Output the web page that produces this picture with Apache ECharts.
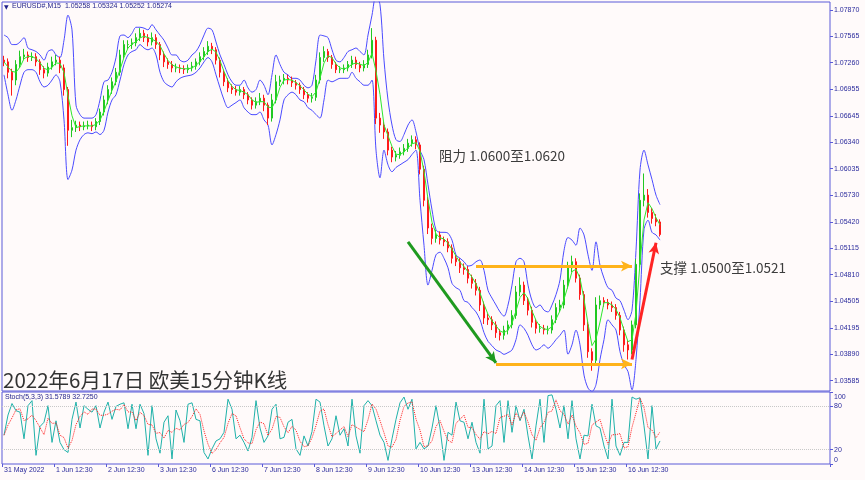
<!DOCTYPE html>
<html><head><meta charset="utf-8">
<script src="https://cdn.jsdelivr.net/npm/echarts@6/dist/echarts.min.js"></script>
<style>html,body{margin:0;padding:0;background:#fffafa;}#c{width:865px;height:480px;}</style>
</head><body><div id="c"></div>
<script>
// ---- data (aggregated bars) ----
const opens = [
1.0729,1.0727,1.0715,1.0706,1.0724,1.0733,1.0735,1.0732,1.0733,1.0727,
1.0718,1.0714,1.0721,1.0727,1.0729,1.0720,1.0695,1.0648,1.0651,1.0654,
1.0652,1.0653,1.0654,1.0652,1.0658,1.0669,1.0683,1.0695,1.0704,1.0715,
1.0735,1.0747,1.0747,1.0749,1.0755,1.0760,1.0755,1.0750,1.0755,1.0747,
1.0735,1.0727,1.0724,1.0720,1.0720,1.0719,1.0718,1.0720,1.0722,1.0727,
1.0733,1.0739,1.0745,1.0741,1.0729,1.0715,1.0704,1.0697,1.0695,1.0692,
1.0695,1.0689,1.0683,1.0677,1.0681,1.0685,1.0677,1.0662,1.0683,1.0704,
1.0706,1.0708,1.0706,1.0703,1.0700,1.0695,1.0689,1.0685,1.0686,1.0706,
1.0732,1.0739,1.0732,1.0724,1.0718,1.0718,1.0720,1.0724,1.0729,1.0724,
1.0720,1.0724,1.0735,1.0752,1.0662,1.0654,1.0646,1.0625,1.0617,1.0619,
1.0623,1.0627,1.0633,1.0637,1.0631,1.0603,1.0567,1.0535,1.0523,1.0527,
1.0521,1.0519,1.0512,1.0500,1.0496,1.0489,1.0487,1.0477,1.0471,1.0463,
1.0446,1.0431,1.0429,1.0423,1.0414,1.0411,1.0417,1.0423,1.0434,1.0461,
1.0469,1.0451,1.0440,1.0426,1.0419,1.0419,1.0417,1.0417,1.0429,1.0443,
1.0446,1.0469,1.0489,1.0496,1.0477,1.0458,1.0423,1.0392,1.0382,1.0446,
1.0451,1.0449,1.0446,1.0443,1.0434,1.0417,1.0400,1.0394,1.0423,1.0493,
1.0567,1.0573,1.0553,1.0546,1.0542];
const closes = [
1.0727,1.0715,1.0706,1.0724,1.0733,1.0735,1.0732,1.0733,1.0727,1.0718,
1.0714,1.0721,1.0727,1.0729,1.0720,1.0695,1.0648,1.0651,1.0654,1.0652,
1.0653,1.0654,1.0652,1.0658,1.0669,1.0683,1.0695,1.0704,1.0715,1.0735,
1.0747,1.0747,1.0749,1.0755,1.0760,1.0755,1.0750,1.0755,1.0747,1.0735,
1.0727,1.0724,1.0720,1.0720,1.0719,1.0718,1.0720,1.0722,1.0727,1.0733,
1.0739,1.0745,1.0741,1.0729,1.0715,1.0704,1.0697,1.0695,1.0692,1.0695,
1.0689,1.0683,1.0677,1.0681,1.0685,1.0677,1.0662,1.0683,1.0704,1.0706,
1.0708,1.0706,1.0703,1.0700,1.0695,1.0689,1.0685,1.0686,1.0706,1.0732,
1.0739,1.0732,1.0724,1.0718,1.0718,1.0720,1.0724,1.0729,1.0724,1.0720,
1.0724,1.0735,1.0752,1.0662,1.0654,1.0646,1.0625,1.0617,1.0619,1.0623,
1.0627,1.0633,1.0637,1.0631,1.0603,1.0567,1.0535,1.0523,1.0527,1.0521,
1.0519,1.0512,1.0500,1.0496,1.0489,1.0487,1.0477,1.0471,1.0463,1.0446,
1.0431,1.0429,1.0423,1.0414,1.0411,1.0417,1.0423,1.0434,1.0461,1.0469,
1.0451,1.0440,1.0426,1.0419,1.0419,1.0417,1.0417,1.0429,1.0443,1.0446,
1.0469,1.0489,1.0496,1.0477,1.0458,1.0423,1.0392,1.0382,1.0446,1.0451,
1.0449,1.0446,1.0443,1.0434,1.0417,1.0400,1.0394,1.0423,1.0493,1.0567,
1.0573,1.0553,1.0546,1.0542,1.05274];
const highs = [
1.0734,1.0731,1.0719,1.0729,1.0740,1.0742,1.0739,1.0738,1.0737,1.0730,
1.0722,1.0726,1.0733,1.0735,1.0733,1.0724,1.0698,1.0660,1.0659,1.0658,
1.0658,1.0659,1.0658,1.0662,1.0673,1.0688,1.0700,1.0709,1.0720,1.0741,
1.0752,1.0752,1.0754,1.0760,1.0766,1.0764,1.0759,1.0761,1.0759,1.0750,
1.0739,1.0731,1.0728,1.0725,1.0724,1.0723,1.0724,1.0727,1.0731,1.0738,
1.0744,1.0751,1.0749,1.0744,1.0732,1.0718,1.0708,1.0701,1.0699,1.0699,
1.0698,1.0692,1.0686,1.0686,1.0691,1.0689,1.0680,1.0690,1.0712,1.0711,
1.0713,1.0712,1.0710,1.0706,1.0703,1.0698,1.0692,1.0691,1.0712,1.0738,
1.0745,1.0742,1.0735,1.0727,1.0722,1.0724,1.0728,1.0734,1.0733,1.0727,
1.0729,1.0741,1.0766,1.0756,1.0668,1.0658,1.0650,1.0629,1.0624,1.0628,
1.0632,1.0638,1.0642,1.0641,1.0634,1.0607,1.0571,1.0540,1.0533,1.0531,
1.0525,1.0523,1.0516,1.0504,1.0500,1.0494,1.0491,1.0481,1.0476,1.0467,
1.0450,1.0436,1.0433,1.0427,1.0418,1.0422,1.0428,1.0440,1.0468,1.0478,
1.0473,1.0455,1.0444,1.0430,1.0424,1.0423,1.0422,1.0434,1.0448,1.0452,
1.0475,1.0496,1.0503,1.0500,1.0481,1.0462,1.0427,1.0396,1.0455,1.0457,
1.0455,1.0453,1.0450,1.0447,1.0438,1.0421,1.0405,1.0428,1.0499,1.0575,
1.0598,1.0580,1.0558,1.0551,1.0545];
const lows = [
1.0722,1.0708,1.0688,1.0700,1.0720,1.0729,1.0727,1.0728,1.0722,1.0712,
1.0708,1.0710,1.0718,1.0723,1.0714,1.0688,1.0630,1.0640,1.0646,1.0647,
1.0648,1.0649,1.0647,1.0648,1.0654,1.0665,1.0678,1.0690,1.0700,1.0711,
1.0731,1.0742,1.0742,1.0745,1.0751,1.0750,1.0745,1.0746,1.0742,1.0729,
1.0721,1.0719,1.0715,1.0715,1.0714,1.0713,1.0714,1.0716,1.0718,1.0723,
1.0729,1.0735,1.0736,1.0724,1.0709,1.0699,1.0692,1.0690,1.0688,1.0688,
1.0684,1.0678,1.0672,1.0673,1.0677,1.0670,1.0654,1.0658,1.0679,1.0699,
1.0701,1.0701,1.0698,1.0695,1.0690,1.0684,1.0680,1.0680,1.0682,1.0702,
1.0727,1.0727,1.0719,1.0714,1.0714,1.0714,1.0716,1.0720,1.0719,1.0715,
1.0716,1.0720,1.0731,1.0655,1.0645,1.0638,1.0619,1.0611,1.0612,1.0615,
1.0619,1.0623,1.0629,1.0626,1.0597,1.0560,1.0528,1.0516,1.0518,1.0516,
1.0514,1.0507,1.0494,1.0491,1.0483,1.0481,1.0471,1.0465,1.0457,1.0439,
1.0424,1.0423,1.0417,1.0408,1.0405,1.0406,1.0412,1.0419,1.0430,1.0456,
1.0446,1.0434,1.0420,1.0413,1.0414,1.0412,1.0412,1.0413,1.0425,1.0438,
1.0442,1.0465,1.0484,1.0472,1.0452,1.0416,1.0385,1.0370,1.0378,1.0441,
1.0444,1.0441,1.0438,1.0429,1.0411,1.0392,1.0383,1.0389,1.0419,1.0489,
1.0560,1.0547,1.0540,1.0537,1.05252];
const upperBand = [
1.0758,1.0755,1.0747,1.0747,1.0750,1.0755,1.0743,1.0741,1.0739,1.0735,
1.0729,1.0739,1.0741,1.0735,1.0732,1.0752,1.0781,1.0764,1.0677,1.0666,
1.0662,1.0662,1.0662,1.0666,1.0683,1.0704,1.0706,1.0715,1.0732,1.0757,
1.0758,1.0755,1.0760,1.0767,1.0767,1.0766,1.0764,1.0770,1.0764,1.0758,
1.0752,1.0743,1.0735,1.0735,1.0729,1.0727,1.0729,1.0735,1.0739,1.0747,
1.0758,1.0766,1.0764,1.0750,1.0735,1.0724,1.0712,1.0704,1.0700,1.0700,
1.0706,1.0697,1.0692,1.0695,1.0706,1.0700,1.0689,1.0712,1.0735,1.0724,
1.0715,1.0712,1.0708,1.0708,1.0706,1.0700,1.0697,1.0700,1.0729,1.0758,
1.0757,1.0755,1.0741,1.0729,1.0727,1.0732,1.0739,1.0741,1.0743,1.0739,
1.0735,1.0758,1.0781,1.0804,1.0793,1.0729,1.0683,1.0654,1.0637,1.0635,
1.0643,1.0654,1.0660,1.0646,1.0625,1.0614,1.0585,1.0556,1.0533,1.0530,
1.0530,1.0529,1.0521,1.0504,1.0500,1.0496,1.0491,1.0492,1.0496,1.0498,
1.0486,1.0463,1.0454,1.0446,1.0438,1.0433,1.0446,1.0469,1.0496,1.0500,
1.0496,1.0469,1.0451,1.0443,1.0446,1.0440,1.0438,1.0446,1.0458,1.0475,
1.0509,1.0524,1.0521,1.0515,1.0535,1.0527,1.0504,1.0486,1.0519,1.0492,
1.0477,1.0466,1.0463,1.0454,1.0451,1.0440,1.0429,1.0440,1.0509,1.0602,
1.0625,1.0608,1.0591,1.0573,1.0562];
const lowerBand = [
1.0712,1.0689,1.0671,1.0683,1.0700,1.0715,1.0718,1.0718,1.0715,1.0704,
1.0698,1.0700,1.0706,1.0712,1.0704,1.0660,1.0591,1.0602,1.0625,1.0637,
1.0643,1.0645,1.0644,1.0646,1.0643,1.0648,1.0669,1.0683,1.0689,1.0706,
1.0724,1.0735,1.0739,1.0741,1.0747,1.0743,1.0741,1.0743,1.0735,1.0715,
1.0704,1.0700,1.0698,1.0704,1.0708,1.0710,1.0711,1.0712,1.0715,1.0720,
1.0727,1.0732,1.0727,1.0712,1.0697,1.0683,1.0674,1.0677,1.0680,1.0683,
1.0674,1.0669,1.0666,1.0666,1.0669,1.0660,1.0654,1.0631,1.0643,1.0660,
1.0683,1.0689,1.0692,1.0689,1.0683,1.0681,1.0674,1.0671,1.0666,1.0662,
1.0683,1.0706,1.0704,1.0706,1.0708,1.0708,1.0708,1.0715,1.0708,1.0704,
1.0700,1.0700,1.0706,1.0625,1.0593,1.0625,1.0608,1.0600,1.0605,1.0608,
1.0611,1.0614,1.0620,1.0625,1.0567,1.0515,1.0469,1.0486,1.0504,1.0507,
1.0500,1.0489,1.0471,1.0466,1.0463,1.0451,1.0449,1.0443,1.0438,1.0429,
1.0414,1.0404,1.0399,1.0394,1.0392,1.0389,1.0391,1.0394,1.0406,1.0423,
1.0419,1.0411,1.0400,1.0394,1.0396,1.0400,1.0396,1.0400,1.0406,1.0411,
1.0417,1.0389,1.0400,1.0417,1.0400,1.0365,1.0350,1.0346,1.0354,1.0383,
1.0406,1.0429,1.0423,1.0417,1.0392,1.0377,1.0369,1.0348,1.0383,1.0451,
1.0533,1.0544,1.0530,1.0527,1.0521];
const stochK = [
40,68,84,74,72,35,81,88,12,52, 58,81,30,60,30,20,16,62,86,50,
81,76,72,81,50,72,86,62,80,83, 85,49,83,49,83,70,12,81,35,15,
58,67,7,75,60,30,83,85,62,60, 16,7,21,32,35,44,90,76,35,40,
30,18,37,88,50,30,39,76,83,35, 37,58,62,21,12,39,25,45,90,86,
53,25,35,67,40,49,25,90,39,15, 81,88,81,60,40,30,5,35,62,85,
93,76,90,21,30,21,25,50,81,50, 5,44,40,86,60,58,35,58,30,15,
90,21,25,81,88,30,88,44,81,60, 76,39,7,53,90,30,95,96,76,50,
81,35,88,35,7,40,39,83,53,50, 25,7,90,25,12,30,30,93,90,92,
53,7,81,21,32];
const totalSlots = 207;                 // chart keeps empty space to the right
const dayTickIndex = [0,13,26,39,52,65,78,91,104,117,130,143,156];
const dayTickLabels = ['31 May 2022','1 Jun 12:30','2 Jun 12:30','3 Jun 12:30','6 Jun 12:30','7 Jun 12:30','8 Jun 12:30','9 Jun 12:30','10 Jun 12:30','13 Jun 12:30','14 Jun 12:30','15 Jun 12:30','16 Jun 12:30'];
const priceTicks = [1.07870,1.07565,1.07260,1.06955,1.06645,1.06340,1.06035,1.05730,1.05420,1.05115,1.04810,1.04505,1.04195,1.03890,1.03585];
const lastPrice = 1.05274;
const stochLevels = [20, 80];
// annotation arrows: [startIndex, startPrice, endIndex, endPrice, color]
const arrowLines = [
  [101, 1.0519, 123, 1.0379, '#1f9a1f'],
  [118, 1.0491, 157, 1.0491, '#ffb31a'],
  [123, 1.0378, 157, 1.0378, '#ffb31a'],
  [157, 1.0383, 163, 1.0518, '#ff2424']
];

// ---- build ----
const cats = [];
for (let i = 0; i < totalSlots; i++) cats.push(String(i));
const tickMap = {};
dayTickIndex.forEach((ix, j) => tickMap[ix] = dayTickLabels[j]);
const candleData = opens.map((o, i) => [o, closes[i], lows[i], highs[i]]);
const maLine = closes.map((c, i) => {
  const s = closes.slice(Math.max(0, i - 2), i + 1);
  return +(s.reduce((a, b) => a + b, 0) / s.length).toFixed(5);
});
const stochD = stochK.map((v, i) => {
  const s = stochK.slice(Math.max(0, i - 2), i + 1);
  return +(s.reduce((a, b) => a + b, 0) / s.length).toFixed(2);
});

const blue = '#5a5ad8';
const labelCol = '#2a2a9c';
const cjk = '"Noto Sans CJK SC","Noto Sans",sans-serif';

const arrowMarks = arrowLines.map(a => [
  {coord: [a[0], a[1]], symbol: 'none', lineStyle: {color: a[4], width: 3, type: 'solid'}, label: {show: false}},
  {coord: [a[2], a[3]], symbol: 'arrow'}
]);

const chart = echarts.init(document.getElementById('c'), null, {renderer: 'canvas'});
chart.setOption({
  animation: false,
  backgroundColor: '#fffafa',
  grid: [
    {left: 2, top: 2, width: 828, height: 389, show: true, borderColor: blue, borderWidth: 1, backgroundColor: 'transparent'},
    {left: 2, top: 392, width: 828, height: 72, show: true, borderColor: blue, borderWidth: 1, backgroundColor: 'transparent'}
  ],
  xAxis: [
    {type: 'category', gridIndex: 0, data: cats, boundaryGap: true,
     axisLine: {show: false}, axisTick: {show: false}, axisLabel: {show: false}, splitLine: {show: false}},
    {type: 'category', gridIndex: 1, data: cats, boundaryGap: true,
     axisLine: {show: false},
     axisTick: {show: true, interval: (i) => tickMap[i] !== undefined, length: 3, lineStyle: {color: blue}},
     axisLabel: {show: true, interval: (i) => tickMap[i] !== undefined, formatter: (v, i) => tickMap[i] || '',
       align: 'left', margin: 3, fontSize: 7, color: labelCol, fontFamily: 'Liberation Sans'},
     splitLine: {show: false}}
  ],
  yAxis: [
    {type: 'value', gridIndex: 0, position: 'right', min: 1.03466, max: 1.07962, scale: true,
     axisLine: {show: false}, splitLine: {show: false},
     axisTick: {show: true, customValues: priceTicks, length: 3, lineStyle: {color: blue}},
     axisLabel: {show: true, customValues: priceTicks, formatter: v => v.toFixed(5), margin: 4,
       fontSize: 7, color: labelCol, fontFamily: 'Liberation Sans'}},
    {type: 'value', gridIndex: 1, position: 'right', min: 0, max: 100,
     axisLine: {show: false}, splitLine: {show: false},
     axisTick: {show: true, customValues: [0, 20, 80, 100], length: 3, lineStyle: {color: blue}},
     axisLabel: {show: true, customValues: [0, 20, 80, 100], margin: 4, fontSize: 7, color: labelCol, fontFamily: 'Liberation Sans',
       formatter: v => v === 100 ? '{t|100}' : (v === 0 ? '{b|0}' : String(v)),
       rich: {t: {padding: [10, 0, 0, 0], fontSize: 7, color: labelCol}, b: {padding: [0, 0, 8, 0], fontSize: 7, color: labelCol}}}}
  ],
  series: [
    {name: 'upper', type: 'line', xAxisIndex: 0, yAxisIndex: 0, data: upperBand, symbol: 'none', smooth: 0.3,
     lineStyle: {color: '#4b4bff', width: 1}, z: 2, clip: true},
    {name: 'lower', type: 'line', xAxisIndex: 0, yAxisIndex: 0, data: lowerBand, symbol: 'none', smooth: 0.3,
     lineStyle: {color: '#4b4bff', width: 1}, z: 2, clip: true},
    {name: 'price', type: 'candlestick', xAxisIndex: 0, yAxisIndex: 0, data: candleData, barWidth: '60%', z: 3,
     itemStyle: {color: '#22c822', color0: '#ff1a1a', borderColor: '#22c822', borderColor0: '#ff1a1a', borderWidth: 1},
     markLine: {silent: true, animation: false, symbol: ['none', 'arrow'], symbolSize: [8, 11],
       data: [
         ...arrowMarks,
         {yAxis: lastPrice, symbol: 'none', lineStyle: {opacity: 0},
          label: {show: true, position: 'end', distance: 1, formatter: lastPrice.toFixed(5), color: '#ffffff',
            backgroundColor: '#0a0ab4', padding: [2, 2, 1, 2], fontSize: 7, fontFamily: 'Liberation Sans'}}
       ]}},
    {name: 'ma', type: 'line', xAxisIndex: 0, yAxisIndex: 0, data: maLine, symbol: 'none',
     lineStyle: {color: '#2ee82e', width: 1}, z: 4},
    {name: 'K', type: 'line', xAxisIndex: 1, yAxisIndex: 1, data: stochK, symbol: 'none',
     lineStyle: {color: '#20b2aa', width: 1}, z: 3,
     markLine: {silent: true, symbol: 'none', label: {show: false},
       lineStyle: {color: '#c8c8c8', type: 'dotted', width: 1},
       data: stochLevels.map(v => ({yAxis: v}))}},
    {name: 'D', type: 'line', xAxisIndex: 1, yAxisIndex: 1, data: stochD, symbol: 'none',
     lineStyle: {color: '#ff2020', width: 1, type: 'dotted'}, z: 4}
  ],
  graphic: [
    {type: 'text', left: 4, top: 4, style: {text: '▼', fontSize: 6, fill: '#20208a', fontFamily: 'DejaVu Sans'}},
    {type: 'text', left: 12, top: 3, style: {text: 'EURUSD#,M15  1.05258 1.05324 1.05252 1.05274', fontSize: 7, fill: '#24248c', fontFamily: 'Liberation Sans'}},
    {type: 'text', left: 5, top: 394, style: {text: 'Stoch(5,3,3) 31.5789 32.7250', fontSize: 7, fill: '#24248c', fontFamily: 'Liberation Sans'}},
    {type: 'text', left: 439, top: 149, style: {text: '阻力 1.0600至1.0620', fontSize: 13.5, fill: '#3c3c3c', fontFamily: cjk}},
    {type: 'text', left: 660, top: 261, style: {text: '支撑 1.0500至1.0521', fontSize: 13.5, fill: '#3c3c3c', fontFamily: cjk}},
    {type: 'text', left: 3, top: 370, style: {text: '2022年6月17日 欧美15分钟K线', fontSize: 20.5, fill: '#333333', fontFamily: cjk}}
  ]
});
</script></body></html>
